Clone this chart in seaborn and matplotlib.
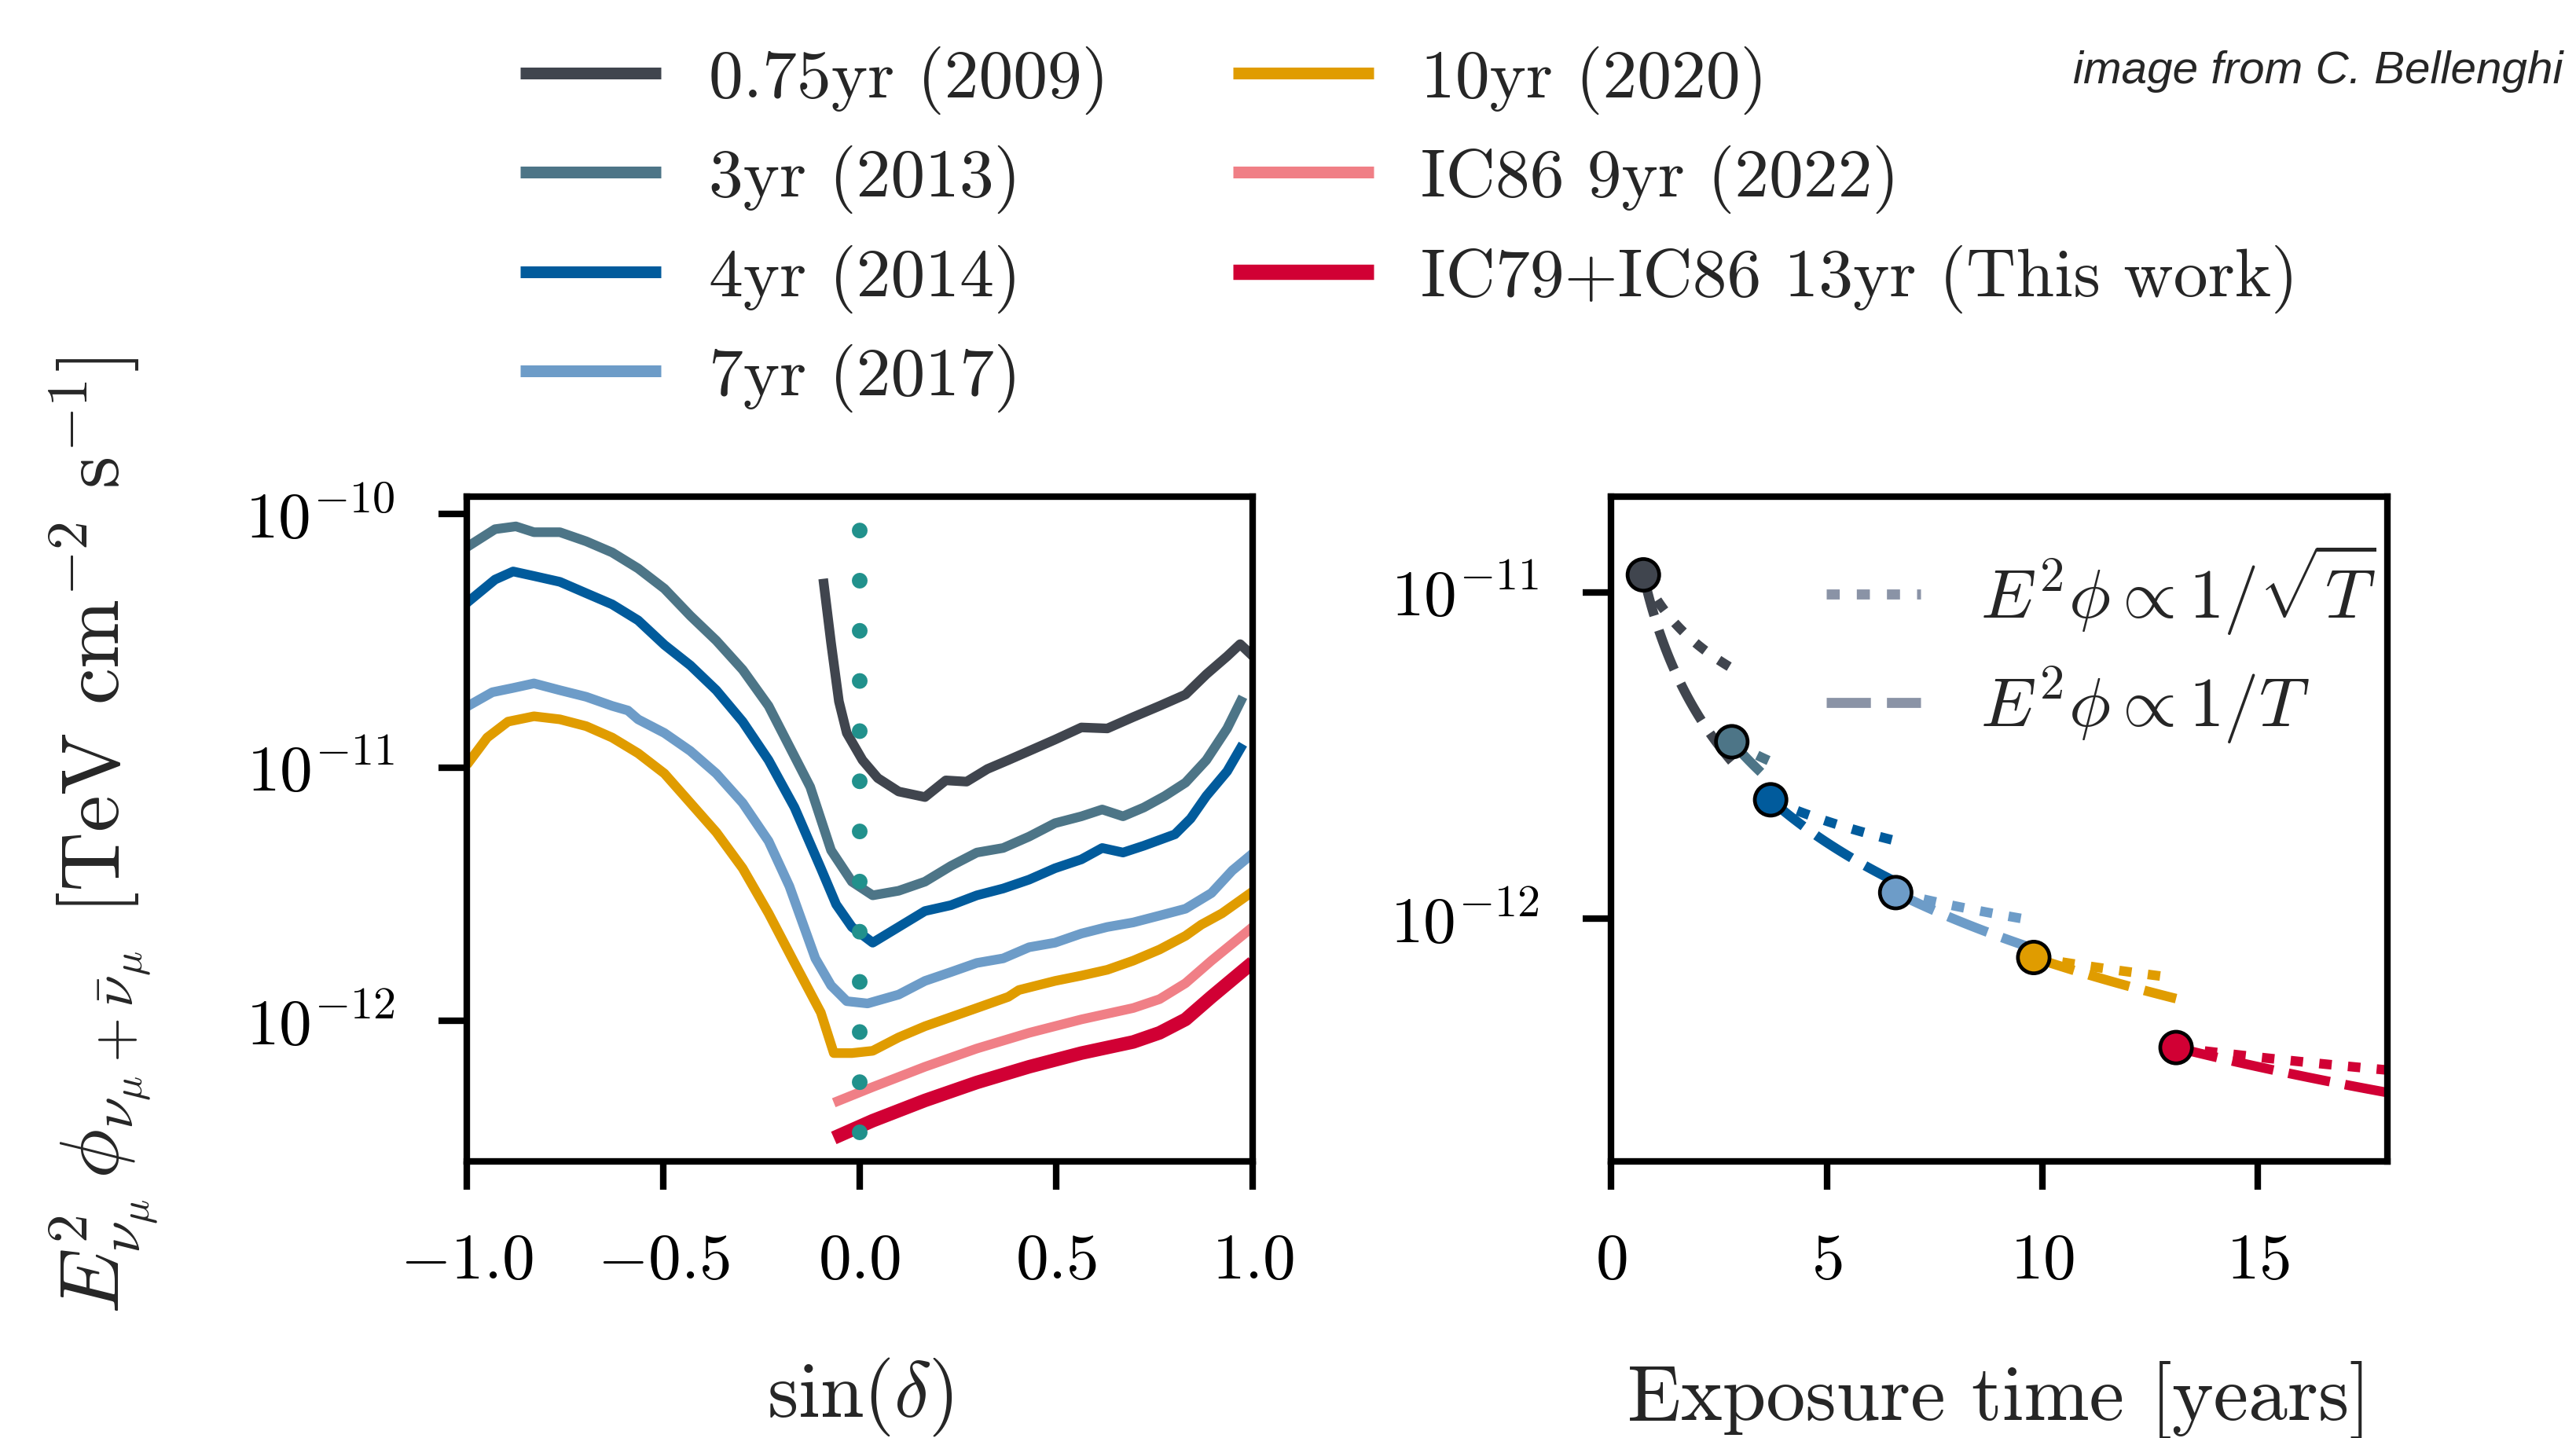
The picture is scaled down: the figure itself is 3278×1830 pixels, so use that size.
import numpy as np
import matplotlib
matplotlib.use("Agg")
import matplotlib.pyplot as plt
import seaborn as sns
from matplotlib.lines import Line2D
from matplotlib.ticker import FixedLocator, NullLocator

# ---------------------------------------------------------------------------
# Sensitivity vs. declination, stored as log10 of E^2 flux [TeV cm^-2 s^-1]
# ---------------------------------------------------------------------------
sindec_0p75yr = [-0.093, -0.073, -0.053, -0.033, 0.007, 0.046, 0.099, 0.166, 0.219, 0.272,
                 0.325, 0.378, 0.431, 0.497, 0.564, 0.630, 0.696, 0.763, 0.829, 0.882,
                 0.935, 0.968, 1.0]
logsens_0p75yr = [-10.255, -10.508, -10.739, -10.864, -10.971, -11.042, -11.095, -11.117,
                  -11.051, -11.056, -11.006, -10.971, -10.935, -10.890, -10.842, -10.846,
                  -10.801, -10.757, -10.712, -10.632, -10.561, -10.513, -10.56]

sindec_3yr = [-1.0, -0.928, -0.875, -0.829, -0.763, -0.696, -0.630, -0.564, -0.497, -0.431,
              -0.365, -0.298, -0.232, -0.179, -0.126, -0.073, -0.020, 0.033, 0.099, 0.166,
              0.232, 0.298, 0.365, 0.431, 0.497, 0.564, 0.617, 0.670, 0.723, 0.776, 0.829,
              0.882, 0.935, 0.975]
logsens_3yr = [-10.13, -10.059, -10.048, -10.071, -10.071, -10.107, -10.151, -10.214, -10.294,
               -10.401, -10.499, -10.614, -10.757, -10.917, -11.077, -11.327, -11.451, -11.505,
               -11.487, -11.451, -11.389, -11.336, -11.318, -11.273, -11.220, -11.193, -11.166,
               -11.193, -11.158, -11.113, -11.060, -10.971, -10.846, -10.721]

sindec_4yr = [-1.0, -0.928, -0.882, -0.829, -0.763, -0.696, -0.630, -0.564, -0.497, -0.431,
              -0.365, -0.298, -0.232, -0.166, -0.099, -0.060, -0.020, 0.033, 0.099, 0.166,
              0.232, 0.298, 0.365, 0.431, 0.497, 0.564, 0.617, 0.670, 0.723, 0.802, 0.842,
              0.882, 0.935, 0.975]
logsens_4yr = [-10.35, -10.258, -10.226, -10.244, -10.267, -10.312, -10.356, -10.419, -10.516,
               -10.597, -10.695, -10.819, -10.971, -11.158, -11.398, -11.541, -11.630, -11.692,
               -11.630, -11.567, -11.544, -11.505, -11.478, -11.443, -11.398, -11.363, -11.318,
               -11.336, -11.309, -11.264, -11.202, -11.113, -11.015, -10.908]

sindec_7yr = [-1.0, -0.935, -0.882, -0.829, -0.763, -0.696, -0.630, -0.590, -0.564, -0.497,
              -0.431, -0.365, -0.298, -0.232, -0.179, -0.113, -0.073, -0.033, 0.020, 0.099,
              0.166, 0.232, 0.298, 0.365, 0.431, 0.497, 0.564, 0.630, 0.696, 0.763, 0.829,
              0.895, 0.948, 1.0]
logsens_7yr = [-10.76, -10.703, -10.686, -10.668, -10.695, -10.721, -10.757, -10.775, -10.810,
               -10.864, -10.935, -11.024, -11.140, -11.291, -11.469, -11.754, -11.861, -11.923,
               -11.932, -11.897, -11.843, -11.808, -11.772, -11.754, -11.710, -11.692, -11.656,
               -11.630, -11.612, -11.585, -11.558, -11.496, -11.407, -11.34]

sindec_10yr = [-1.0, -0.948, -0.895, -0.829, -0.763, -0.696, -0.630, -0.564, -0.497, -0.431,
               -0.365, -0.298, -0.232, -0.166, -0.099, -0.066, -0.020, 0.033, 0.099, 0.166,
               0.232, 0.298, 0.378, 0.405, 0.497, 0.564, 0.630, 0.696, 0.763, 0.829, 0.869,
               0.922, 1.0]
logsens_10yr = [-10.99, -10.882, -10.819, -10.798, -10.810, -10.837, -10.882, -10.944, -11.024,
                -11.140, -11.256, -11.398, -11.576, -11.772, -11.968, -12.128, -12.128, -12.119,
                -12.066, -12.022, -11.986, -11.950, -11.906, -11.879, -11.843, -11.822, -11.799,
                -11.763, -11.719, -11.665, -11.621, -11.576, -11.49]

sindec_ic86_9yr = [-0.066, 0.033, 0.166, 0.298, 0.431, 0.564, 0.696, 0.763, 0.829, 0.895, 1.0]
logsens_ic86_9yr = [-12.324, -12.262, -12.182, -12.110, -12.048, -11.995, -11.950, -11.915,
                    -11.852, -11.763, -11.63]

sindec_13yr = [-0.066, 0.033, 0.166, 0.298, 0.431, 0.564, 0.696, 0.763, 0.829, 0.895, 1.0]
logsens_13yr = [-12.463, -12.395, -12.315, -12.244, -12.182, -12.128, -12.084, -12.048,
                -11.995, -11.906, -11.77]

release_labels = ["0.75yr (2009)", "3yr (2013)", "4yr (2014)", "7yr (2017)",
                  "10yr (2020)", "IC86 9yr (2022)", "IC79+IC86 13yr (This work)"]
release_colors = ["#40454e", "#4d7587", "#015b9c", "#6d9cc8",
                  "#e09c00", "#f07f86", "#d10034"]

# Horizon sensitivity (sin(dec) = 0) vs. exposure time
exposure_years = [0.75, 2.8, 3.7, 6.6, 9.8, 13.1]
horizon_sens = [1.13e-11, 3.48e-12, 2.31e-12, 1.20e-12, 7.59e-13, 4.02e-13]
exposure_colors = ["#40454e", "#4d7587", "#015b9c", "#6d9cc8", "#e09c00", "#d10034"]

# Horizon marker extent (log10 flux)
horizon_marker_span = [-12.44, -10.062]

# ---------------------------------------------------------------------------
sns.set_style("ticks")
plt.rcParams.update({
    "font.family": "serif",
    "font.serif": ["cmr10"],
    "mathtext.fontset": "cm",
    "axes.formatter.use_mathtext": True,
    "axes.unicode_minus": True,
    "axes.linewidth": 3.0,
    "xtick.major.width": 3.0,
    "ytick.major.width": 3.0,
    "xtick.major.size": 13,
    "ytick.major.size": 13,
    "xtick.major.pad": 20,
    "ytick.major.pad": 20,
    "xtick.labelsize": 30,
    "ytick.labelsize": 30,
    "axes.edgecolor": "black",
    "xtick.color": "black",
    "ytick.color": "black",
})

fig = plt.figure(figsize=(16.39, 9.15), dpi=200)
fig.patch.set_facecolor("white")

ax_l = fig.add_axes([0.1812, 0.1923, 0.3051, 0.4626])
ax_r = fig.add_axes([0.6254, 0.1923, 0.3014, 0.4626])

# ------------------------------ left panel ---------------------------------
curves = [
    (sindec_0p75yr, logsens_0p75yr),
    (sindec_3yr, logsens_3yr),
    (sindec_4yr, logsens_4yr),
    (sindec_7yr, logsens_7yr),
    (sindec_10yr, logsens_10yr),
    (sindec_ic86_9yr, logsens_ic86_9yr),
    (sindec_13yr, logsens_13yr),
]
widths = [4.4, 4.4, 4.4, 4.4, 4.4, 4.4, 6.2]

ax_l.set_yscale("log")
for (sx, ly), lab, col, lw in zip(curves, release_labels, release_colors, widths):
    sns.lineplot(x=np.asarray(sx), y=10.0 ** np.asarray(ly), ax=ax_l, color=col,
                 linewidth=lw, label=lab, legend=False, sort=False,
                 solid_capstyle="butt")

ax_l.plot([0, 0], [10.0 ** horizon_marker_span[0], 10.0 ** horizon_marker_span[1]],
          color="#21918c", linewidth=7.2, linestyle=(0, (0.001, 3.19)),
          dash_capstyle="round", zorder=5)

ax_l.set_xlim(-1.0, 1.0)
ax_l.set_ylim(10 ** -12.556, 10 ** -9.929)
ax_l.xaxis.set_major_locator(FixedLocator([-1.0, -0.5, 0.0, 0.5, 1.0]))
ax_l.yaxis.set_major_locator(FixedLocator([1e-12, 1e-11, 1e-10]))
ax_l.yaxis.set_minor_locator(NullLocator())
ax_l.set_xlabel(r"$\sin(\delta)$", fontsize=36)
ax_l.xaxis.set_label_coords(0.5, -0.292)
ax_l.set_ylabel(r"$E^2_{\nu_\mu}\,\phi_{\nu_\mu+\bar{\nu}_\mu}$ [TeV cm$^{-2}$ s$^{-1}$]",
                fontsize=38)
ax_l.yaxis.set_label_coords(-0.39, 0.49)

# ------------------------------ right panel --------------------------------
ax_r.set_yscale("log")
x_end = 18.6
for i, (t0, s0, col) in enumerate(zip(exposure_years, horizon_sens, exposure_colors)):
    t1 = exposure_years[i + 1] if i + 1 < len(exposure_years) else x_end
    t = np.linspace(t0, t1, 80)
    sns.lineplot(x=t, y=s0 * np.sqrt(t0 / t), ax=ax_r, color=col, linewidth=4.4,
                 linestyle=(0, (1.3, 1.7)), legend=False, zorder=2)
    sns.lineplot(x=t, y=s0 * t0 / t, ax=ax_r, color=col, linewidth=4.4,
                 linestyle=(0, (4.4, 1.6)), legend=False, zorder=2)

sns.scatterplot(x=exposure_years, y=horizon_sens, hue=list(range(len(exposure_years))),
                palette=exposure_colors, s=210, edgecolor="black", linewidth=1.7,
                ax=ax_r, legend=False, zorder=4)

ax_r.set_xlim(0, 18)
ax_r.set_ylim(10 ** -12.745, 10 ** -10.706)
ax_r.xaxis.set_major_locator(FixedLocator([0, 5, 10, 15]))
ax_r.yaxis.set_major_locator(FixedLocator([1e-12, 1e-11]))
ax_r.yaxis.set_minor_locator(NullLocator())
ax_r.set_xlabel("Exposure time [years]", fontsize=36)
ax_r.xaxis.set_label_coords(0.5, -0.30)
ax_r.set_ylabel("")

scaling_handles = [
    Line2D([], [], color="#8a93a6", linewidth=4.6, linestyle=(0, (1.3, 1.7))),
    Line2D([], [], color="#8a93a6", linewidth=4.6, linestyle=(0, (4.4, 1.6))),
]
ax_r.legend(scaling_handles,
            [r"$E^2\phi \propto 1/\sqrt{T}$", r"$E^2\phi \propto 1/T$"],
            loc="upper right", bbox_to_anchor=(0.985, 0.93), frameon=False,
            fontsize=32, handlelength=1.35, handletextpad=0.85, labelspacing=0.4,
            borderaxespad=0.0, borderpad=0.0)

for ax in (ax_l, ax_r):
    for sp in ax.spines.values():
        sp.set_visible(True)
        sp.set_linewidth(3.0)
    ax.tick_params(which="both", direction="out", top=False, right=False)
    ax.set_facecolor("white")
    ax.grid(False)

# ------------------------------ figure legend ------------------------------
release_handles = [Line2D([], [], color=c, linewidth=(7.0 if i == 6 else 5.4),
                          solid_capstyle="butt")
                   for i, c in enumerate(release_colors)]
fig.legend(release_handles, release_labels, loc="upper left",
           bbox_to_anchor=(0.202, 0.968), ncol=2, frameon=False, fontsize=31.6,
           handlelength=2.04, handletextpad=0.69, columnspacing=1.8,
           labelspacing=0.45, borderpad=0.0, borderaxespad=0.0)

fig.text(0.995, 0.942, "image from C. Bellenghi", ha="right", va="baseline",
         fontsize=21, style="italic",
         family=["Liberation Sans Narrow", "Liberation Sans", "DejaVu Sans"])

fig.savefig("out.png", dpi=200, facecolor="white")
